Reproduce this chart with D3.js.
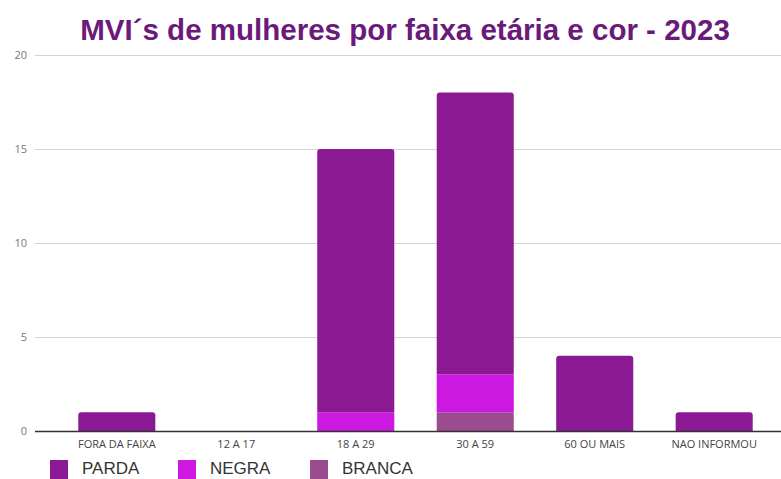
<!DOCTYPE html>
<html>
<head>
<meta charset="utf-8">
<script src="https://cdn.jsdelivr.net/npm/d3@7"></script>
<style>
  html, body { margin: 0; padding: 0; background: #fff; }
  svg { display: block; }
</style>
</head>
<body>
<svg id="chart" width="781" height="479"></svg>
<script>
// Faixas etárias (eixo X)
const categories = ["FORA DA FAIXA", "12 A 17", "18 A 29", "30 A 59", "60 OU MAIS", "NAO INFORMOU"];
// Séries por cor, empilhadas de baixo para cima: BRANCA, NEGRA, PARDA
const branca = [0, 0, 0, 1, 0, 0];
const negra  = [0, 0, 1, 2, 0, 0];
const parda  = [1, 0, 14, 15, 4, 1];
const seriesNames = ["BRANCA", "NEGRA", "PARDA"];
const legendOrder = ["PARDA", "NEGRA", "BRANCA"];
const yTicks = [0, 5, 10, 15, 20];
const titleText = "MVI´s de mulheres por faixa etária e cor - 2023";

const colors = { PARDA: "#8c1994", NEGRA: "#cc18e0", BRANCA: "#9a4c8e" };

const svg = d3.select("#chart");
const plot = { left: 35, right: 781, top: 55, bottom: 431 };

const rows = categories.map((c, i) => ({ cat: c, BRANCA: branca[i], NEGRA: negra[i], PARDA: parda[i] }));
const stacked = d3.stack().keys(seriesNames)(rows);

const x = d3.scaleBand().domain(categories).range([57, 774]).paddingInner(0.355).paddingOuter(0.178);
const y = d3.scaleLinear().domain([0, 20]).range([plot.bottom, plot.top]);

// Linhas de grade
svg.append("g")
  .selectAll("line")
  .data(yTicks.filter(d => d > 0))
  .join("line")
  .attr("x1", plot.left).attr("x2", plot.right)
  .attr("y1", d => y(d) + 0.5).attr("y2", d => y(d) + 0.5)
  .attr("stroke", "#d4d4d4").attr("stroke-width", 1);

// Rótulos do eixo Y
svg.append("g")
  .selectAll("text")
  .data(yTicks)
  .join("text")
  .attr("x", 27).attr("y", d => y(d) + 4)
  .attr("text-anchor", "end")
  .attr("font-family", "'Open Sans', sans-serif")
  .attr("font-size", 11)
  .attr("fill", "#777")
  .text(d => d);

// Topo de cada coluna (para arredondar apenas o segmento superior)
const totals = rows.map(r => seriesNames.reduce((s, k) => s + r[k], 0));

function segPath(x0, w, yTop, yBot, rounded) {
  const r = rounded ? Math.min(3, (yBot - yTop) / 2) : 0;
  return `M${x0},${yBot} L${x0},${yTop + r} Q${x0},${yTop} ${x0 + r},${yTop} L${x0 + w - r},${yTop} Q${x0 + w},${yTop} ${x0 + w},${yTop + r} L${x0 + w},${yBot} Z`;
}

const bars = svg.append("g");
stacked.forEach(layer => {
  bars.append("g")
    .attr("fill", colors[layer.key])
    .selectAll("path")
    .data(layer.map((d, i) => ({ d, i })))
    .join("path")
    .filter(o => o.d[1] - o.d[0] > 0)
    .attr("d", o => segPath(x(categories[o.i]), x.bandwidth(), y(o.d[1]), y(o.d[0]), o.d[1] === totals[o.i]));
});

// Linha de base
svg.append("line")
  .attr("x1", plot.left).attr("x2", plot.right)
  .attr("y1", plot.bottom + 0.5).attr("y2", plot.bottom + 0.5)
  .attr("stroke", "#333").attr("stroke-width", 1.5);

// Rótulos do eixo X
svg.append("g")
  .selectAll("text")
  .data(categories)
  .join("text")
  .attr("x", d => x(d) + x.bandwidth() / 2)
  .attr("y", 448)
  .attr("text-anchor", "middle")
  .attr("font-family", "'Open Sans', sans-serif")
  .attr("font-size", 11)
  .attr("fill", "#444")
  .text(d => d);

// Título
const title = svg.append("text")
  .attr("x", 405).attr("y", 40)
  .attr("text-anchor", "middle")
  .attr("font-family", "'Liberation Sans', Arial, sans-serif")
  .attr("font-weight", "bold")
  .attr("font-size", 28)
  .attr("fill", "#6b1a7c")
  .text(titleText);
const tl = title.node().getComputedTextLength();
title.attr("font-size", 28 * 650 / tl);

// Legenda
const legendX = [50, 178, 310];
const leg = svg.append("g");
legendOrder.forEach((k, i) => {
  leg.append("rect")
    .attr("x", legendX[i]).attr("y", 460).attr("width", 18).attr("height", 19)
    .attr("fill", colors[k]);
  leg.append("text")
    .attr("x", legendX[i] + 32).attr("y", 474)
    .attr("font-family", "'Liberation Sans', Arial, sans-serif")
    .attr("font-size", 17)
    .attr("fill", "#333")
    .text(k);
});
</script>
</body>
</html>
